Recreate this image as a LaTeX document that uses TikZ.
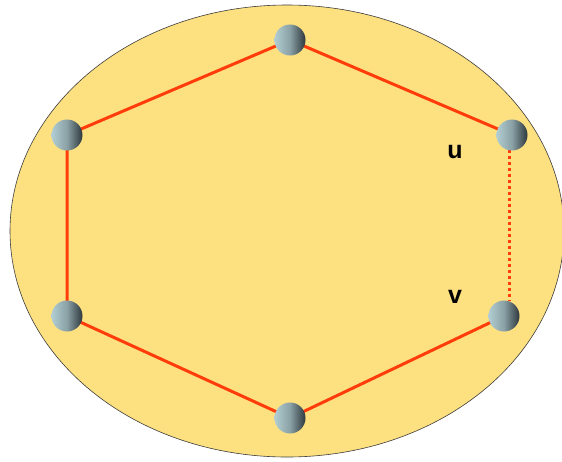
\documentclass[tikz,border=0pt]{standalone}
\usepackage{fontspec}
\setmainfont{Liberation Sans}
\usetikzlibrary{backgrounds}
\definecolor{discfill}{RGB}{253,224,128}
\definecolor{edgered}{RGB}{255,60,10}
\definecolor{balllight}{RGB}{178,206,210}
\definecolor{balldark}{RGB}{45,55,60}
\tikzset{every picture/.style={line width=0.75pt}}
\tikzset{
ball/.style={circle, minimum size=31pt, inner sep=0pt, left color=balllight, right color=balldark, middle color=balllight!70!balldark},
ring/.style={draw=edgered, line width=3pt},
ringdot/.style={draw=edgered, line width=3pt, dash pattern=on 3pt off 3pt},
vlabel/.style={font=\fontsize{25}{29}\selectfont\bfseries}
}

\begin{document}
\begin{tikzpicture}[x=1pt,y=1pt,yscale=-1,xscale=1]
\useasboundingbox (0,0) rectangle (562,461);

% Vertices
\node [ball] (top) at (290,40) {};
\node [ball] (ul) at (67,135) {};
\node [ball] (ur) at (512,135) {};
\node [ball] (ll) at (67,316) {};
\node [ball] (lr) at (504,316) {};
\node [ball] (bot) at (290,418) {};
\coordinate (uend) at (509,150);
\coordinate (vend) at (509,301);

\begin{scope}[on background layer]
%Shape: Ellipse
\draw [draw={rgb, 255:red, 60; green, 60; blue, 60}, line width=0.6pt, fill=discfill] (287,231) ellipse (277 and 226);
%Straight Lines
\draw [ring] (top.center) -- (ul.center) -- (ll.center) -- (bot.center) -- (lr.center);
\draw [ring] (top.center) -- (ur.center);
\draw [ringdot] (uend) -- (vend);
\end{scope}

% Text Node
\node [vlabel] (u) at (455,152) {u};
% Text Node
\node [vlabel] (v) at (455,297) {v};
\end{tikzpicture}
\end{document}
